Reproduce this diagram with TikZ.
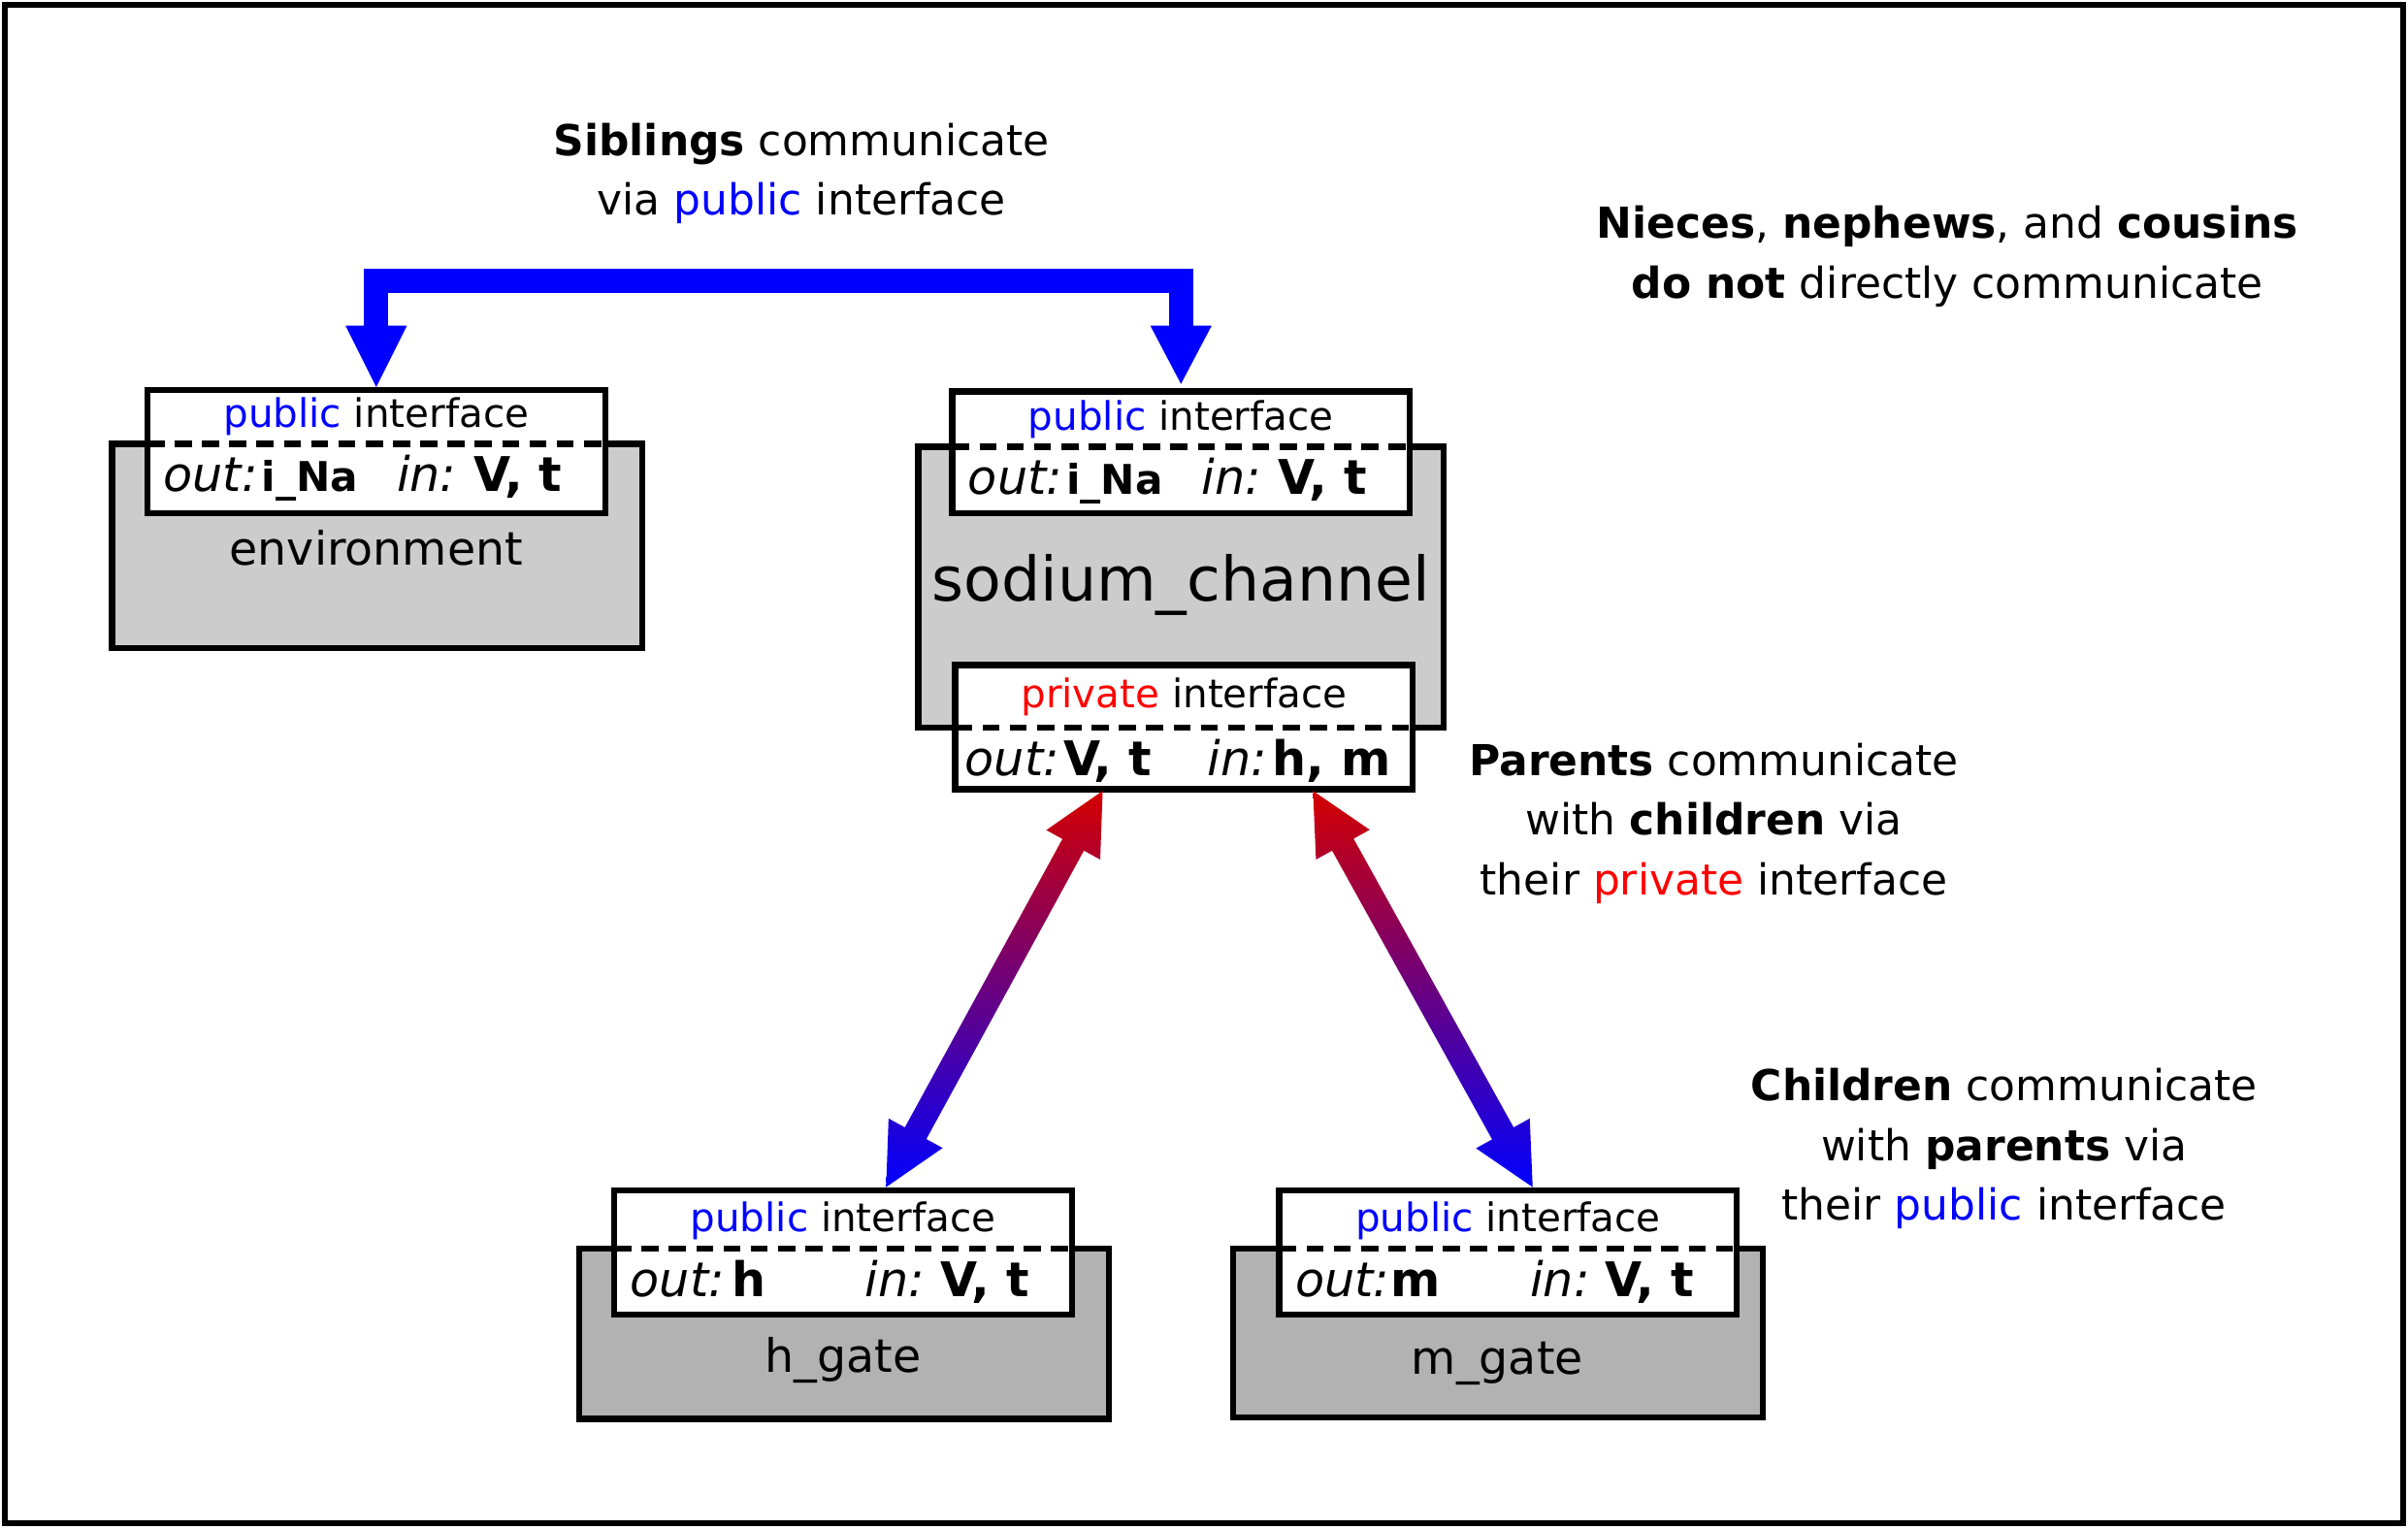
\documentclass[tikz,border=0pt]{standalone}
\usepackage{fontspec}
\setmainfont{DejaVu Sans}
\begin{document}
\begin{tikzpicture}[x=0.01583cm,y=-0.01583cm,
  box/.style={line width=1.8pt},
  gray1/.style={box,fill=black!20},
  gray2/.style={box,fill=black!30},
  iface/.style={box,fill=white},
  dsh/.style={line width=1.8pt,dash pattern=on 5pt off 3pt},
  lab/.style={inner sep=0pt,font=\fontsize{11.5}{13}\selectfont},
  io/.style={inner sep=0pt,anchor=base west,font=\fontsize{14}{16}\selectfont\itshape},
  val/.style={inner sep=0pt,anchor=base west,font=\fontsize{14}{16}\selectfont\bfseries},
  sval/.style={inner sep=0pt,anchor=base west,font=\fontsize{12}{14}\selectfont\bfseries},
  note/.style={align=center,inner sep=0pt,font=\fontsize{12.5}{17.5}\selectfont},
  nm/.style={inner sep=0pt,font=\fontsize{13.5}{16}\selectfont}]
\useasboundingbox (0,0) rectangle (1568,995);
\draw[line width=1.8pt] (3,3) rectangle (1565,992);
% environment
\draw[gray1] (73,289) rectangle (418,422);
\draw[iface] (96,254) rectangle (394,334);
\draw[dsh] (96,289) -- (394,289);
\node[lab] (envpub) at (245,271) {\textcolor{blue}{public} interface};
\node[io] (envo) at (106,320) {out:};
\node[sval] (envov) at (170,320) {i\_Na};
\node[io] (envi) at (258,320) {in:};
\node[val] (enviv) at (308,320) {V, t};
\node[nm] (env) at (245,357) {environment};
% sodium
\draw[gray1] (598,291) rectangle (940,474);
\draw[iface] (620,255) rectangle (918,334);
\draw[dsh] (620,291) -- (918,291);
\node[lab] (napub) at (769,273) {\textcolor{blue}{public} interface};
\node[io] (nao) at (630,322) {out:};
\node[sval] (naov) at (694,322) {i\_Na};
\node[io] (nai) at (782,322) {in:};
\node[val] (naiv) at (832,322) {V, t};
\node[nm,font=\fontsize{18}{20}\selectfont] (na) at (769,381) {sodium\_channel};
\draw[iface] (622,433) rectangle (920,514);
\draw[dsh] (622,474) -- (920,474);
\node[lab] (napriv) at (771,454) {\textcolor{red}{private} interface};
\node[io] (po) at (628,505) {out:};
\node[val] (pov) at (692,505) {V, t};
\node[io] (pi) at (786,505) {in:};
\node[val] (piv) at (828,505) {h, m};
% h gate
\draw[gray2] (377,813) rectangle (722,924);
\draw[iface] (400,775) rectangle (698,856);
\draw[dsh] (400,813) -- (698,813);
\node[lab] (hpub) at (549,795) {\textcolor{blue}{public} interface};
\node[io] (ho) at (410,844) {out:};
\node[val] (hov) at (476,844) {h};
\node[io] (hi) at (563,844) {in:};
\node[val] (hiv) at (612,844) {V, t};
\node[nm] (h) at (549,886) {h\_gate};
% m gate
\draw[gray2] (803,813) rectangle (1148,923);
\draw[iface] (833,775) rectangle (1131,856);
\draw[dsh] (833,813) -- (1131,813);
\node[lab] (mpub) at (982,795) {\textcolor{blue}{public} interface};
\node[io] (mo) at (843,844) {out:};
\node[val] (mov) at (905,844) {m};
\node[io] (mi) at (996,844) {in:};
\node[val] (miv) at (1045,844) {V, t};
\node[nm] (m) at (975,888) {m\_gate};
% blue arrow
\draw[blue,line width=7.2pt,line join=miter] (245,214) -- (245,183) -- (769,183) -- (769,214);
\fill[blue] (225,212) -- (265,212) -- (245,252) -- cycle;
\fill[blue] (749,212) -- (789,212) -- (769,250) -- cycle;
% gradient arrows
\definecolor{ar}{RGB}{212,0,0}
\shade[top color=ar,bottom color=blue,middle color=ar!50!blue] (718,515) -- (716.4,559.7) -- (705.8,553.9) -- (603.2,741.7) -- (613.8,747.5) -- (577,773) -- (578.6,728.3) -- (589.2,734.1) -- (691.8,546.3) -- (681.3,540.5) -- cycle;
\shade[top color=ar,bottom color=blue,middle color=ar!50!blue] (855,515) -- (891.9,540.3) -- (881.4,546.1) -- (985.6,734.1) -- (996.1,728.3) -- (998,773) -- (961.1,747.7) -- (971.6,741.9) -- (867.4,553.9) -- (856.9,559.7) -- cycle;
% notes
\node[note] (n1) at (522,113) {\textbf{Siblings} communicate\\via \textcolor{blue}{public} interface};
\node[note] (n2) at (1268,167) {\textbf{Nieces}, \textbf{nephews}, and \textbf{cousins}\\\textbf{do not} directly communicate};
\node[note] (n3) at (1116,536) {\textbf{Parents} communicate\\with \textbf{children} via\\their \textcolor{red}{private} interface};
\node[note] (n4) at (1305,748) {\textbf{Children} communicate\\with \textbf{parents} via\\their \textcolor{blue}{public} interface};
\end{tikzpicture}
\end{document}
